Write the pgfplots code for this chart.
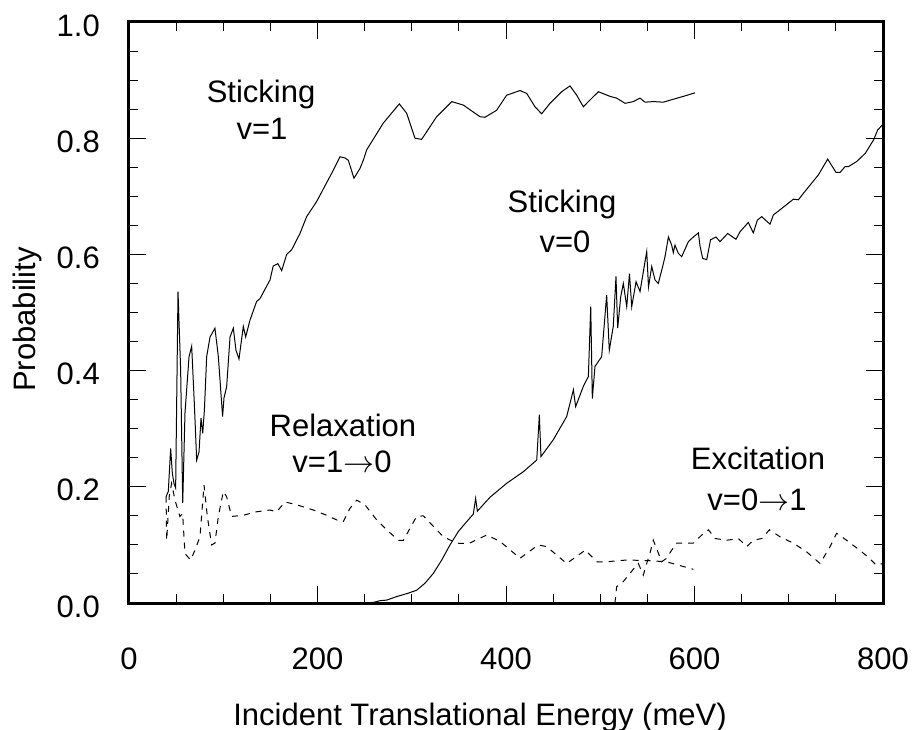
\documentclass[border=0pt]{standalone}
\usepackage{graphicx}
\usepackage{pgfplots}
\pgfplotsset{compat=1.18}
\usepackage{fontspec}
\setmainfont{Liberation Sans}
\newcommand{\arr}{\scalebox{1.25}{$\rightarrow$}}
\begin{document}
\fontsize{31bp}{37bp}\selectfont
\begin{tikzpicture}
\useasboundingbox (-129bp,-127bp) rectangle (786bp,603bp);
\begin{axis}[at={(0,0)}, anchor=south west, scale only axis,
  width=754bp, height=581bp,
  xmin=0, xmax=800, ymin=0, ymax=1,
  xtick={0,200,400,600,800}, ytick={0,0.2,0.4,0.6,0.8,1},
  minor tick num=3,
  tick align=inside,
  major tick length=17bp, minor tick length=9bp,
  axis line style={line width=3bp},
  every tick/.style={black, line width=1bp},
  /pgf/number format/assume math mode=true,
  yticklabel style={/pgf/number format/fixed, /pgf/number format/fixed zerofill,
    /pgf/number format/precision=1, inner sep=0pt, anchor=east, xshift=-29bp, yshift=-3.5bp},
  xticklabel style={inner sep=0pt, anchor=north, yshift=-45bp},
  xlabel={Incident Translational Energy (meV)},
  xlabel style={at={(axis description cs:0.4655,-0.21)}, anchor=base, inner sep=0pt},
  ylabel={Probability},
  ylabel style={at={(axis description cs:-0.134,0.488)}, anchor=center, inner sep=0pt},
]
% Sticking v=1
\addplot[black, line width=1bp] table {
39.3 0.183
41.7 0.192
44.2 0.266
46.0 0.223
47.7 0.206
49.5 0.198
52.0 0.536
54.8 0.401
57.0 0.172
59.4 0.327
63.7 0.424
66.5 0.442
69.3 0.344
71.8 0.246
74.3 0.260
76.4 0.318
78.2 0.292
80.0 0.332
82.4 0.424
86.0 0.458
91.2 0.473
94.8 0.424
99.3 0.321
100.8 0.353
103.6 0.372
107.2 0.458
110.7 0.473
113.5 0.435
116.7 0.420
121.3 0.476
123.8 0.458
128.4 0.487
135.4 0.519
139.0 0.524
149.6 0.556
153.0 0.580
158.0 0.584
162.0 0.572
167.3 0.600
172.6 0.608
181.4 0.636
188.5 0.665
199.1 0.691
216.8 0.745
223.9 0.768
229.2 0.766
232.7 0.762
238.7 0.731
245.1 0.748
248.6 0.762
252.2 0.780
269.8 0.826
286.8 0.859
294.6 0.843
303.4 0.800
310.5 0.798
326.4 0.837
342.4 0.863
354.7 0.857
372.4 0.837
377.7 0.836
390.0 0.848
400.7 0.874
414.9 0.882
422.0 0.877
430.8 0.854
437.8 0.842
446.7 0.860
459.1 0.880
467.9 0.890
475.0 0.874
482.1 0.854
487.4 0.863
498.0 0.880
510.3 0.872
517.4 0.869
526.3 0.860
535.1 0.863
542.2 0.869
547.5 0.862
556.3 0.863
566.9 0.862
577.5 0.867
588.2 0.872
600.5 0.878
};
% Sticking v=0
\addplot[black, line width=1bp] table {
245 0.000
259.2 0.001
266.3 0.004
273.4 0.005
284 0.011
296.4 0.017
305.2 0.022
314 0.034
322.9 0.051
331.8 0.074
340.6 0.100
349.4 0.123
358.3 0.140
365.3 0.153
367.8 0.180
369.6 0.158
383 0.182
400.7 0.206
418.4 0.226
432.6 0.246
435.4 0.324
437.1 0.252
450.2 0.281
464.4 0.321
471.5 0.367
473.9 0.338
482.1 0.373
487.4 0.390
489.9 0.510
491.6 0.352
494.4 0.407
501.5 0.424
506.8 0.530
509.6 0.435
513.8 0.476
516.7 0.562
518.5 0.473
521.7 0.527
524.5 0.550
528.1 0.510
531.0 0.567
533.4 0.510
538.0 0.553
542.2 0.536
549.3 0.605
551.2 0.544
554.6 0.579
558.1 0.556
561.6 0.550
566.2 0.579
568.7 0.596
572.3 0.630
575.8 0.616
577.5 0.603
579.3 0.616
582.8 0.602
586.4 0.596
593.5 0.622
598.8 0.630
604.1 0.637
605.9 0.614
608.7 0.593
613.0 0.591
617.0 0.625
622.8 0.630
627.1 0.622
635.2 0.636
644.0 0.626
648.3 0.639
657.1 0.655
662.4 0.637
666.7 0.659
671.3 0.665
680.1 0.652
683.7 0.668
692.5 0.679
704.9 0.695
710.2 0.694
715.5 0.705
731.5 0.737
741.3 0.764
750.2 0.741
754.4 0.741
759.7 0.751
763.3 0.751
772.2 0.760
781.2 0.774
790.0 0.797
794.3 0.814
800.0 0.824
};
% Relaxation v=1->0
\addplot[black, line width=1bp, dash pattern=on 6bp off 6bp] table {
39.3 0.183
40.0 0.108
42.7 0.183
45.2 0.206
48.8 0.177
54.0 0.149
56.9 0.154
59.4 0.085
65.4 0.074
70.0 0.091
75.3 0.114
79.6 0.203
83.1 0.149
87.7 0.100
91.2 0.103
94.8 0.149
100.1 0.192
103.6 0.183
108.9 0.149
121.3 0.151
135.4 0.157
149.6 0.160
156.7 0.157
165.5 0.174
178.0 0.169
195.6 0.160
209.7 0.151
220.4 0.143
227.4 0.140
234.5 0.163
241.6 0.177
250.4 0.169
262.8 0.143
273.4 0.126
285.7 0.108
291.1 0.108
305.2 0.149
312.3 0.150
333.5 0.114
347.7 0.103
360.0 0.102
379.5 0.117
393.6 0.106
414.9 0.077
434.3 0.100
443.2 0.097
464.4 0.068
484.1 0.091
496.5 0.071
506.8 0.071
528.1 0.074
550.0 0.073
570.0 0.071
598.8 0.058
};
% Excitation v=0->1
\addplot[black, line width=1bp, dash pattern=on 6bp off 6bp] table {
515.6 0.000
517.4 0.028
524.5 0.037
531.6 0.051
536.9 0.062
540.4 0.068
545.7 0.048
549.3 0.068
552.8 0.086
556.3 0.108
561.6 0.086
565.2 0.071
570.4 0.077
575.8 0.091
581.1 0.103
588.2 0.103
598.8 0.103
607.7 0.117
614.8 0.126
621.9 0.111
634.2 0.108
646.6 0.111
655.4 0.097
662.5 0.108
671.4 0.111
679.5 0.126
690.7 0.114
704.9 0.103
719.0 0.088
733.2 0.068
743.8 0.097
750.8 0.120
761.4 0.108
775.1 0.091
785.7 0.077
792.8 0.065
800.0 0.068
};
\node[anchor=base, inner sep=0pt] at (axis cs:140.1,0.862) {Sticking};
\node[anchor=base, inner sep=0pt] at (axis cs:141.1,0.797) {v=1};
\node[anchor=base, inner sep=0pt] at (axis cs:459.4,0.672) {Sticking};
\node[anchor=base, inner sep=0pt] at (axis cs:462.6,0.604) {v=0};
\node[anchor=base, inner sep=0pt] at (axis cs:227,0.286) {Relaxation};
\node[anchor=base, inner sep=0pt] at (axis cs:226,0.224) {v=1\arr0};
\node[anchor=base, inner sep=0pt] at (axis cs:667.4,0.229) {Excitation};
\node[anchor=base, inner sep=0pt] at (axis cs:666.3,0.160) {v=0\arr1};
\end{axis}
\end{tikzpicture}
\end{document}
